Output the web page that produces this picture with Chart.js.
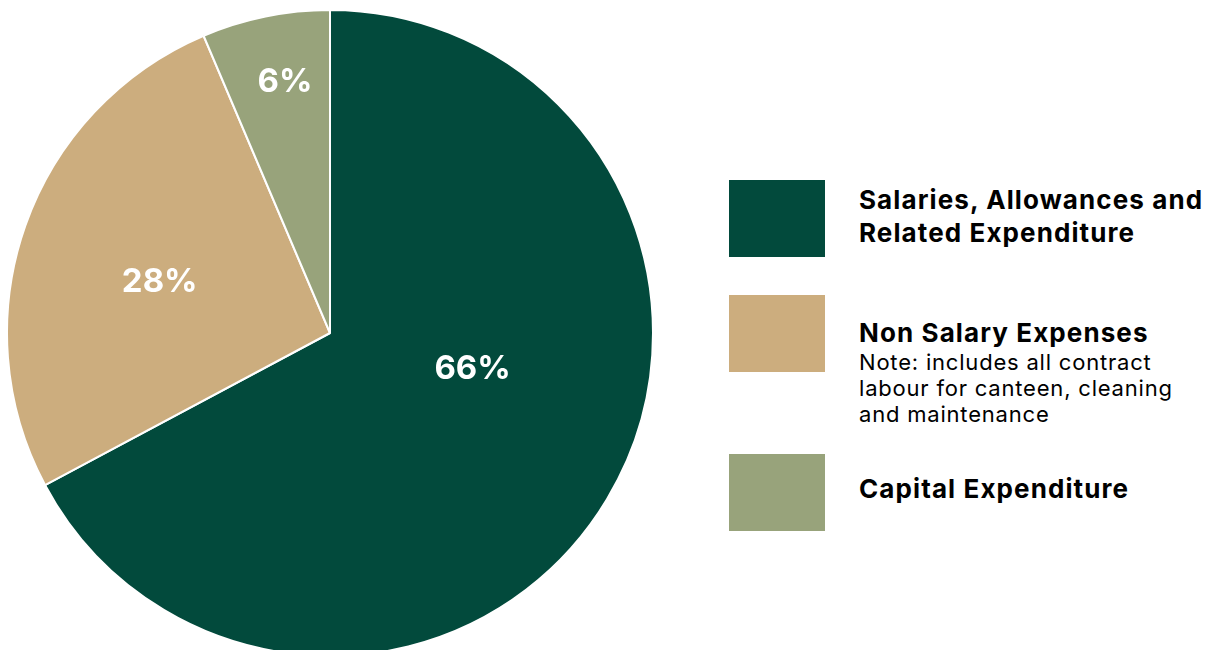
<!DOCTYPE html>
<html>
<head>
<meta charset="utf-8">
<script src="https://cdn.jsdelivr.net/npm/chart.js@4"></script>
<style>
  body { margin: 0; width: 1215px; height: 650px; overflow: hidden; background: #fff; font-family: Inter, "Noto Sans", sans-serif; color: #000; }
  #pieBox { position: absolute; left: 6px; top: 9px; width: 648px; height: 648px; }
  .item { position: absolute; left: 729px; }
  .swatch { position: absolute; left: 0; width: 96px; height: 77px; }
  .txt { position: absolute; left: 130px; width: 400px; }
  .title { font-weight: 700; font-size: 26px; line-height: 33px; letter-spacing: 1.1px; white-space: nowrap; }
  .note { font-weight: 400; font-size: 22px; line-height: 26px; letter-spacing: 0.8px; white-space: nowrap; }
</style>
</head>
<body>
<div id="pieBox"><canvas id="pie"></canvas></div>
<div id="legend"></div>
<script>
let labels = ["Salaries, Allowances and Related Expenditure", "Non Salary Expenses", "Capital Expenditure"];
let values = [67.2, 26.4, 6.4];
let pctText = ["66%", "28%", "6%"];
let colors = ["#024a3c", "#ccad7e", "#98a37b"];
let titleLines = [["Salaries, Allowances and", "Related Expenditure"], ["Non Salary Expenses"], ["Capital Expenditure"]];
let noteLines = [[], ["Note: includes all contract", "labour for canteen, cleaning", "and maintenance"], []];

// where each % label sits: fraction along the slice angle, fraction of radius
let labelAngleFrac = [0.43, 0.47, 0.56];
let labelRadiusFrac = [0.455, 0.55, 0.79];

let pctLabels = {
  id: "pctLabels",
  afterDatasetsDraw(chart) {
    let ctx = chart.ctx;
    let meta = chart.getDatasetMeta(0);
    ctx.save();
    ctx.fillStyle = "#fff";
    ctx.font = "700 33px Inter, 'Noto Sans', sans-serif";
    ctx.textAlign = "center";
    ctx.textBaseline = "middle";
    meta.data.forEach((arc, i) => {
      let a = arc.startAngle + (arc.endAngle - arc.startAngle) * labelAngleFrac[i];
      let r = arc.outerRadius * labelRadiusFrac[i];
      ctx.fillText(pctText[i], arc.x + Math.cos(a) * r, arc.y + Math.sin(a) * r);
    });
    ctx.restore();
  }
};

new Chart(document.getElementById("pie"), {
  type: "pie",
  data: {
    labels: labels,
    datasets: [{
      data: values,
      backgroundColor: colors,
      borderColor: "#fff",
      borderWidth: 2
    }]
  },
  options: {
    responsive: true,
    maintainAspectRatio: false,
    animation: false,
    layout: { padding: 0 },
    plugins: {
      legend: { display: false },
      tooltip: { enabled: false }
    }
  },
  plugins: [pctLabels]
});

// legend drawn as html next to the pie
let legendTops = [180, 295, 454];
let textTops = [183, 316, 472];
let legendDiv = document.getElementById("legend");
for (let i = 0; i < labels.length; i++) {
  let html = `<div class="item" style="top:${legendTops[i]}px">
      <div class="swatch" style="background:${colors[i]}"></div>
    </div>
    <div class="item" style="top:${textTops[i]}px">
      <div class="txt">
        ${titleLines[i].map(t => `<div class="title">${t}</div>`).join("")}
        ${noteLines[i].map(t => `<div class="note">${t}</div>`).join("")}
      </div>
    </div>`;
  legendDiv.innerHTML += html;
}
</script>
</body>
</html>
